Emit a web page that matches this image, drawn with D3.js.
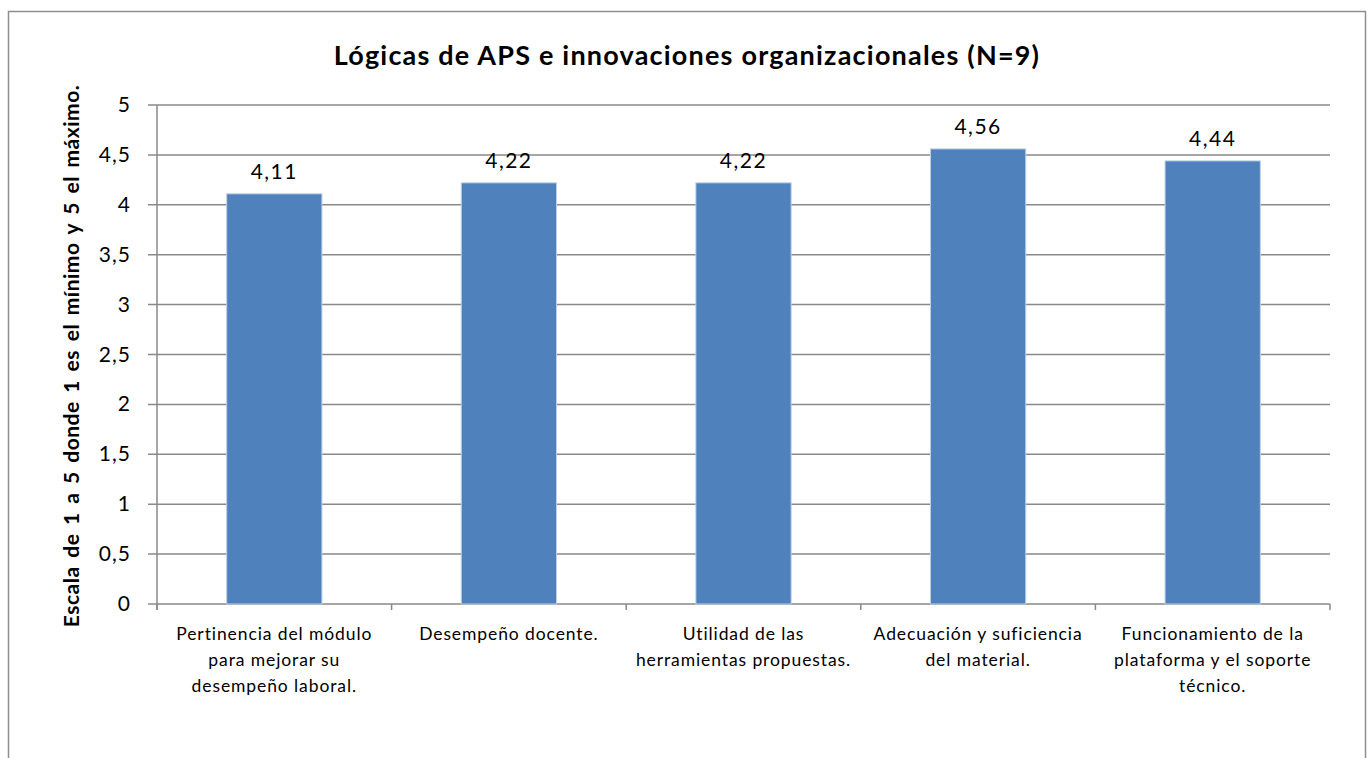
<!DOCTYPE html>
<html>
<head>
<meta charset="utf-8">
<script src="https://cdn.jsdelivr.net/npm/d3@7"></script>
<style>
  body { margin: 0; background: #fff; }
  text { font-family: Lato, "Open Sans", sans-serif; fill: #000; }
</style>
</head>
<body>
<div class="div_chart"></div>
<script>
const categories = [
  'Pertinencia del módulo\npara mejorar su\ndesempeño laboral.',
  'Desempeño docente.',
  'Utilidad de las\nherramientas propuestas.',
  'Adecuación y suficiencia\ndel material.',
  'Funcionamiento de la\nplataforma y el soporte\ntécnico.'
];
const values = [4.11, 4.22, 4.22, 4.56, 4.44];
const yTicks = [0, 0.5, 1, 1.5, 2, 2.5, 3, 3.5, 4, 4.5, 5];

const title = 'Lógicas de APS e innovaciones organizacionales (N=9)';
const yTitle = 'Escala de 1 a 5 donde 1 es el mínimo y 5 el máximo.';

const width = 1370;
const height = 758;
const fmt = (v) => String(v).replace('.', ',');

const svg = d3
  .select('.div_chart')
  .append('svg')
  .attr('width', width)
  .attr('height', height);

// chart frame (bottom edge falls outside the picture)
svg
  .append('rect')
  .attr('x', 8.5)
  .attr('y', 11.5)
  .attr('width', 1357)
  .attr('height', 800)
  .attr('fill', 'none')
  .attr('stroke', '#8e8e8e')
  .attr('stroke-width', 1.5);

const plot = { left: 157, right: 1330, top: 105, bottom: 604 };

const x = d3
  .scaleBand()
  .domain(categories)
  .range([plot.left, plot.right])
  .paddingInner(0.594)
  .paddingOuter(0.297);

const y = d3.scaleLinear().domain([0, 5]).range([plot.bottom, plot.top]);

// gridlines
svg
  .append('g')
  .selectAll('line')
  .data(yTicks)
  .enter()
  .append('line')
  .attr('x1', plot.left - 9)
  .attr('x2', plot.right)
  .attr('y1', (d) => y(d))
  .attr('y2', (d) => y(d))
  .attr('stroke', '#898989')
  .attr('stroke-width', 1.5);

// y axis line
svg
  .append('line')
  .attr('x1', plot.left)
  .attr('x2', plot.left)
  .attr('y1', plot.top)
  .attr('y2', plot.bottom + 6)
  .attr('stroke', '#898989')
  .attr('stroke-width', 1.5);

// category tick marks at band boundaries
const step = x.step();
svg
  .append('g')
  .selectAll('line')
  .data(d3.range(categories.length + 1))
  .enter()
  .append('line')
  .attr('x1', (i) => plot.left + i * step)
  .attr('x2', (i) => plot.left + i * step)
  .attr('y1', plot.bottom)
  .attr('y2', plot.bottom + 6)
  .attr('stroke', '#898989')
  .attr('stroke-width', 1.5);

// y tick labels
svg
  .append('g')
  .selectAll('text')
  .data(yTicks)
  .enter()
  .append('text')
  .attr('x', 131)
  .attr('y', (d) => y(d) + 7)
  .attr('text-anchor', 'end')
  .attr('font-size', '21px')
  .attr('letter-spacing', '1px')
  .text((d) => fmt(d));

// bars
svg
  .append('g')
  .selectAll('rect')
  .data(values)
  .enter()
  .append('rect')
  .attr('x', (d, i) => x(categories[i]))
  .attr('y', (d) => y(d))
  .attr('width', x.bandwidth())
  .attr('height', (d) => y(0) - y(d))
  .attr('fill', '#4f81bd')
  .attr('stroke', '#bccfe6')
  .attr('stroke-width', 1);

// value labels
svg
  .append('g')
  .selectAll('text')
  .data(values)
  .enter()
  .append('text')
  .attr('x', (d, i) => x(categories[i]) + x.bandwidth() / 2)
  .attr('y', (d) => y(d) - 15)
  .attr('text-anchor', 'middle')
  .attr('font-size', '21px')
  .attr('letter-spacing', '1.5px')
  .text((d) => fmt(d));

// category labels
const catG = svg
  .append('g')
  .selectAll('text')
  .data(categories)
  .enter()
  .append('text')
  .attr('text-anchor', 'middle')
  .attr('font-size', '17.5px')
  .attr('letter-spacing', '0.9px');

catG
  .selectAll('tspan')
  .data((d) => d.split('\n').map((line) => ({ line, cat: d })))
  .enter()
  .append('tspan')
  .attr('x', (d) => x(d.cat) + x.bandwidth() / 2)
  .attr('y', (d, i) => 640 + i * 26)
  .text((d) => d.line);

// title
svg
  .append('text')
  .attr('x', 687)
  .attr('y', 65)
  .attr('text-anchor', 'middle')
  .attr('font-size', '27px')
  .attr('font-weight', 'bold')
  .attr('letter-spacing', '1.2px')
  .text(title);

// y axis title
svg
  .append('text')
  .attr('transform', 'translate(79, 356) rotate(-90)')
  .attr('text-anchor', 'middle')
  .attr('font-size', '21px')
  .attr('font-weight', 'bold')
  .attr('letter-spacing', '0.5px')
  .attr('word-spacing', '3px')
  .text(yTitle);
</script>
</body>
</html>
